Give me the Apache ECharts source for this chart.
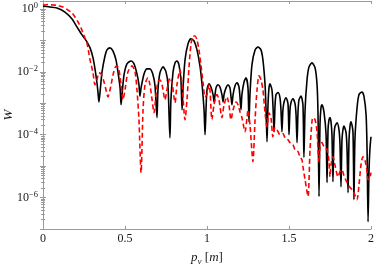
<!DOCTYPE html>
<html>
<head>
<meta charset="utf-8">
<script src="https://cdn.jsdelivr.net/npm/echarts@6/dist/echarts.min.js"></script>
<style>
html,body{margin:0;padding:0;background:#fff;}
#chart{width:374px;height:264px;}
</style>
</head>
<body>
<div id="chart"></div>
<script>
// Black solid curve: p_y [m] and W
const blackX = [0,0.043,0.085,0.134,0.177,0.207,0.238,0.256,0.268,0.287,0.305,0.317,0.329,0.335,0.341,
0.348,0.360,0.378,0.390,0.409,0.427,0.445,0.457,0.470,0.476,
0.482,0.494,0.512,0.537,0.555,0.573,0.585,0.591,
0.598,0.616,0.634,0.652,0.671,0.683,0.695,
0.701,0.713,0.732,0.750,0.762,0.774,
0.780,0.793,0.805,0.817,0.829,0.841,0.848,
0.854,0.866,0.884,0.902,0.921,0.939,0.957,0.970,0.982,0.988,
0.994,1.0,1.012,1.024,1.037,1.043,
1.049,1.055,1.067,1.079,1.091,1.098,
1.104,1.116,1.128,1.140,1.146,1.152,
1.159,1.171,1.183,1.195,1.201,1.207,
1.213,1.226,1.238,1.25,1.256,
1.262,1.274,1.293,1.311,1.329,1.341,1.354,1.360,1.366,
1.372,1.378,1.384,1.396,1.402,1.409,
1.415,1.421,1.433,1.445,1.451,1.457,
1.463,1.470,1.482,1.494,1.5,
1.506,1.512,1.524,1.537,1.543,1.549,
1.555,1.561,1.573,1.585,1.591,
1.598,1.610,1.622,1.640,1.659,1.671,1.677,1.683,
1.689,1.695,1.701,1.713,1.726,1.732,
1.738,1.744,1.75,1.756,1.762,1.768,
1.774,1.780,1.793,1.805,1.811,1.817,
1.823,1.829,1.835,1.848,1.854,1.860,
1.866,1.872,1.878,1.890,1.896,
1.902,1.915,1.927,1.945,1.957,1.970,1.976,1.982,
1.988,1.994,2.0];
const blackW = [1.24,1.16,1.08,0.80,0.48,0.27,0.15,0.112,0.090,0.058,0.028,0.0125,0.0045,0.0023,0.0011,
0.0023,0.0100,0.032,0.050,0.058,0.046,0.024,0.0100,0.0031,0.00090,
0.0019,0.0080,0.0180,0.0223,0.0180,0.0086,0.0039,0.0017,
0.0031,0.0086,0.0125,0.0125,0.0080,0.0036,0.00035,
0.0027,0.0093,0.0144,0.0100,0.0039,0.00008,
0.0013,0.0100,0.0193,0.0223,0.0167,0.0056,0.00062,
0.0031,0.024,0.077,0.112,0.096,0.050,0.0155,0.0039,0.00062,0.00010,
0.00062,0.0027,0.0042,0.0033,0.0019,0.0011,
0.0019,0.0031,0.0039,0.0033,0.0019,0.0011,
0.0019,0.0031,0.0039,0.0031,0.0017,0.00090,
0.0019,0.0036,0.0045,0.0033,0.0016,0.00062,
0.0019,0.0048,0.0065,0.0031,0.00026,
0.0019,0.0167,0.050,0.062,0.050,0.024,0.0039,0.00062,0.000060,
0.00090,0.0031,0.0042,0.0027,0.00090,0.000125,
0.00090,0.0019,0.0022,0.0015,0.00062,0.000125,
0.00062,0.0011,0.0015,0.00096,0.00010,
0.00062,0.00104,0.0014,0.00096,0.00043,0.000056,
0.00054,0.0013,0.0017,0.00090,0.000019,
0.00062,0.0056,0.0144,0.0193,0.0134,0.0039,0.00043,0.00000108,
0.00021,0.00072,0.00090,0.00054,0.00010,0.0000030,
0.000144,0.00030,0.00035,0.00026,0.00010,0.0000032,
0.000080,0.00018,0.00024,0.00014,0.000048,0.0000022,
0.000069,0.000144,0.00019,0.000116,0.000033,0.00000144,
0.000069,0.00019,0.00026,0.000125,0.00000086,
0.000069,0.00072,0.0019,0.0023,0.0017,0.00043,0.000033,0.00000017,
0.0000077,0.000039,0.000086];

// Red dashed curve: p_y [m] and W
const redX = [0,0.030,0.061,0.091,0.122,0.152,0.177,0.195,0.213,0.232,0.244,0.256,0.268,0.287,0.305,0.317,
0.329,0.341,0.354,0.372,0.384,0.396,0.409,0.427,0.439,0.451,0.463,0.476,0.488,
0.5,0.518,0.543,0.561,0.573,0.585,0.598,0.610,0.622,0.640,0.652,0.665,0.677,
0.689,0.701,0.713,0.726,0.744,0.756,0.774,0.787,0.805,0.817,0.835,0.848,0.866,
0.878,0.890,0.902,0.915,0.927,0.939,0.951,0.963,0.976,0.988,
1.0,1.012,1.018,1.030,1.043,1.061,1.073,1.091,1.104,1.122,1.134,1.146,1.159,1.177,1.189,
1.201,1.213,1.232,1.244,1.25,1.262,1.280,1.293,1.305,1.317,1.329,1.341,1.354,1.366,
1.378,1.390,1.402,1.415,1.427,1.445,1.463,1.476,1.494,1.506,1.524,1.537,1.555,1.567,
1.579,1.585,1.598,1.616,1.628,1.640,1.646,1.659,1.671,1.677,1.683,1.689,1.701,1.713,
1.732,1.744,1.75,1.756,1.768,1.780,1.799,1.811,1.823,1.835,1.854,1.872,1.884,1.902,
1.915,1.927,1.939,1.951,1.963,1.976,1.982,1.994,2.0];
const redW = [1.34,1.39,1.34,1.29,1.16,0.93,0.75,0.56,0.39,0.25,0.17,0.12,0.083,0.024,0.0093,0.0039,
0.0056,0.0093,0.0086,0.0048,0.0027,0.0016,0.0027,0.0080,0.0134,0.0155,0.0116,0.0039,0.0013,
0.0027,0.0100,0.0155,0.0100,0.0027,0.00030,0.0000062,0.00062,0.0039,0.0065,0.0039,0.0013,0.00050,
0.0019,0.0048,0.0056,0.0039,0.0013,0.0027,0.0065,0.0045,0.00104,0.0039,0.0116,0.0039,0.00030,
0.0013,0.0134,0.072,0.139,0.139,0.104,0.050,0.0167,0.0045,0.0016,
0.0019,0.0039,0.0027,0.00030,0.00090,0.0019,0.0013,0.00035,0.00090,0.0016,0.00090,0.00030,0.00062,0.0011,0.00090,
0.00054,0.00035,0.000125,0.00035,0.00062,0.00021,0.000014,0.00030,0.0027,0.0075,0.0056,0.0027,0.00050,0.00018,
0.00050,0.00035,0.000086,0.00017,0.000144,0.00010,0.000108,0.000080,0.000069,0.000056,0.000048,0.000033,0.000029,0.000020,
0.000016,0.0000096,0.0000037,0.00000108,0.000033,0.00026,0.00035,0.00030,0.000125,0.000033,0.000013,0.000039,0.000056,0.000042,
0.000033,0.000014,0.0000046,0.000011,0.000020,0.000011,0.0000046,0.0000067,0.0000077,0.0000050,0.0000030,0.0000021,0.0000018,0.0000012,
0.00000086,0.0000026,0.000011,0.000020,0.000016,0.0000067,0.0000037,0.0000046,0.0000062];

const xTicks = [0, 0.5, 1, 1.5, 2];

const serif = '"Liberation Serif", "DejaVu Serif", serif';
const axisGray = '#9a9a9a';
const textColor = '#1a1a1a';

function pairs(xs, ys) { return xs.map((x, i) => [x, ys[i]]); }

function logLabel(v) {
  const l = Math.log10(v);
  const e = Math.round(l);
  if (Math.abs(l - e) > 1e-6 || e % 2 !== 0) return '';
  const s = e < 0 ? '\u2212' + (-e) : String(e);
  return '{b|10}{s|' + s + '}';
}

const chart = echarts.init(document.getElementById('chart'), null, {renderer: 'canvas'});
const yCommon = {
  type: 'log', logBase: 10, min: 1e-7, max: 1.8,
  axisLine: {show: true, lineStyle: {color: axisGray, width: 1}},
  axisTick: {show: true, inside: true, length: 3, lineStyle: {color: axisGray}},
  minorTick: {show: true, splitNumber: 9, length: 2, lineStyle: {color: axisGray}},
  splitLine: {show: false}, minorSplitLine: {show: false}
};
const xCommon = {
  type: 'value', min: 0, max: 2, interval: 0.5,
  axisLine: {show: true, onZero: false, lineStyle: {color: axisGray, width: 1}},
  axisTick: {show: true, inside: true, length: 3, lineStyle: {color: axisGray}},
  splitLine: {show: false}
};
chart.setOption({
  animation: false,
  backgroundColor: '#fff',
  grid: {left: 43, right: 3, top: 1, bottom: 35, containLabel: false, outerBoundsMode: 'none'},
  xAxis: [
    Object.assign({}, xCommon, {
      position: 'bottom',
      axisLabel: {
        show: true, margin: 4, color: textColor, fontFamily: serif, fontSize: 12,
        formatter: v => xTicks.indexOf(v) >= 0 ? String(v) : ''
      },
      name: '{i|p}{sub|y}{n| [}{i|m}{n|]}',
      nameLocation: 'middle', nameGap: 21, nameMoveOverlap: false,
      nameTextStyle: {
        rich: {
          i: {fontFamily: serif, fontStyle: 'italic', fontSize: 13, color: textColor, lineHeight: 16},
          sub: {fontFamily: serif, fontStyle: 'italic', fontSize: 9, color: textColor, verticalAlign: 'bottom', lineHeight: 16, padding: [5, 0, 0, 0]},
          n: {fontFamily: serif, fontSize: 13, color: textColor, lineHeight: 16}
        }
      }
    }),
    Object.assign({}, xCommon, {position: 'top', axisLabel: {show: false}})
  ],
  yAxis: [
    Object.assign({}, yCommon, {
      position: 'left',
      axisLabel: {
        show: true, margin: 5, formatter: logLabel,
        rich: {
          b: {fontFamily: serif, fontSize: 12, color: textColor, lineHeight: 15},
          s: {fontFamily: serif, fontSize: 8.5, color: textColor, verticalAlign: 'top', lineHeight: 15}
        }
      },
      name: 'W', nameLocation: 'middle', nameGap: 28, nameRotate: 90, nameMoveOverlap: false,
      nameTextStyle: {fontFamily: serif, fontStyle: 'italic', fontSize: 13, color: textColor}
    }),
    Object.assign({}, yCommon, {position: 'right', axisLabel: {show: false}})
  ],
  series: [
    {
      type: 'line', data: pairs(blackX, blackW), showSymbol: false, smooth: 0.25,
      lineStyle: {color: '#000', width: 1.6}, z: 2
    },
    {
      type: 'line', data: pairs(redX, redW), showSymbol: false, smooth: 0.25,
      lineStyle: {color: '#ff0000', width: 1.6, type: [5, 3]}, z: 3
    }
  ]
});
</script>
</body>
</html>
